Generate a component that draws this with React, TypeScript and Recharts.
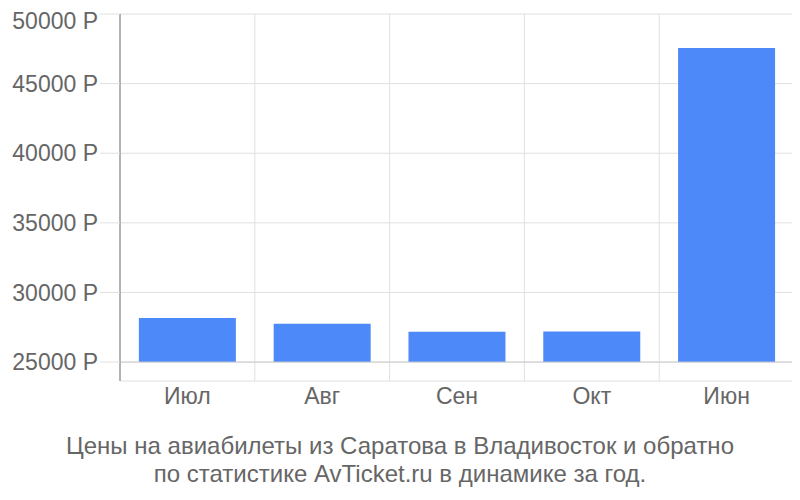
import { BarChart, Bar, XAxis, YAxis, CartesianGrid, ReferenceLine } from "recharts";

const months = ["Июл", "Авг", "Сен", "Окт", "Июн"];
const prices = [28160, 27750, 27180, 27200, 47560];
const yTicks = [25000, 30000, 35000, 40000, 45000, 50000];
const gridTicks = [0, 1, 2, 3, 4, 5];
const BASE = 25000;

const data = months.map((m, i) => ({ month: m, price: prices[i], slot: i + 0.5 }));

export default function App() {
  return (
    <div style={{ width: 792, fontFamily: "'Liberation Sans', Arial, sans-serif" }}>
      <BarChart
        width={792}
        height={424}
        data={data}
        margin={{ top: 6, right: 6, bottom: 11, left: 0 }}
        barCategoryGap="14%"
      >
        <CartesianGrid stroke="#e0e0e0" xAxisId="grid" />
        <XAxis xAxisId="grid" type="number" dataKey="slot" domain={[0, 5]} ticks={gridTicks} hide />
        <XAxis
          dataKey="month"
          height={40}
          tickLine={false}
          axisLine={false}
          tickMargin={1}
          tick={{ fill: "#666", fontSize: 23 }}
        />
        <YAxis
          width={112}
          domain={[23640, 50000]}
          ticks={yTicks}
          tickSize={20}
          tickLine={{ stroke: "#e0e0e0" }}
          axisLine={{ stroke: "#9e9e9e", strokeWidth: 1.5 }}
          tickFormatter={(v) => `${v} Р`}
          tick={{ fill: "#666", fontSize: 23 }}
        />
        <ReferenceLine y={BASE} stroke="#cccccc" />
        <Bar dataKey={(d) => [BASE, d.price]} fill="#4d89f9" isAnimationActive={false} />
      </BarChart>
      <div
        style={{
          width: 784,
          textAlign: "center",
          fontSize: 24,
          lineHeight: "28px",
          color: "#666",
        }}
      >
        Цены на авиабилеты из Саратова в Владивосток и обратно
        <br />
        по статистике AvTicket.ru в динамике за год.
      </div>
    </div>
  );
}
